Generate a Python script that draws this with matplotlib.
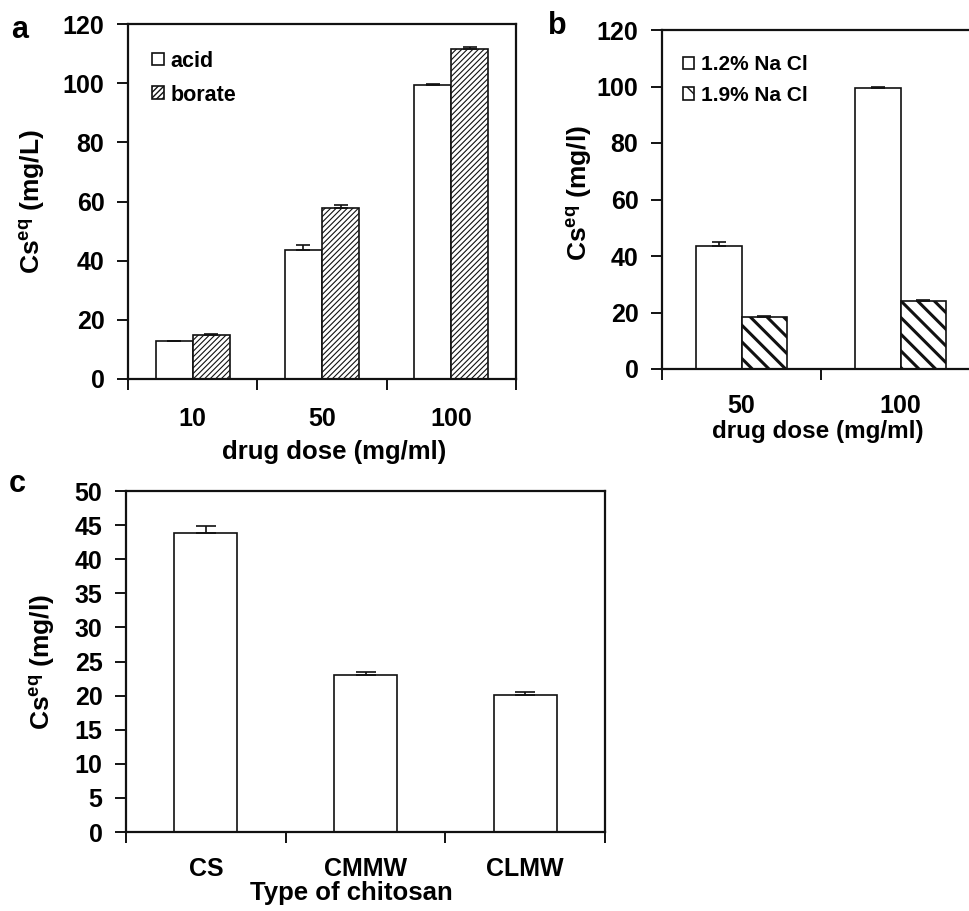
import matplotlib
matplotlib.use("Agg")
import matplotlib.pyplot as plt
import numpy as np

# panel a: dissolution medium
doses_a = ["10", "50", "100"]
acid = [12.8, 43.5, 99.3]
acid_err = [0.2, 1.7, 0.3]
borate = [14.9, 57.8, 111.4]
borate_err = [0.2, 1.0, 0.8]

# panel b: NaCl concentration
doses_b = ["50", "100"]
nacl_12 = [43.6, 99.6]
nacl_12_err = [1.4, 0.3]
nacl_19 = [18.4, 24.1]
nacl_19_err = [0.2, 0.3]

# panel c: chitosan type
chitosan = ["CS", "CMMW", "CLMW"]
cs_eq = [43.8, 23.0, 20.1]
cs_eq_err = [1.0, 0.4, 0.4]

plt.rcParams["font.family"] = ["Liberation Sans", "DejaVu Sans"]
plt.rcParams["font.weight"] = "bold"
plt.rcParams["mathtext.fontset"] = "custom"
plt.rcParams["mathtext.rm"] = "Liberation Sans:bold"
plt.rcParams["mathtext.bf"] = "Liberation Sans:bold"
plt.rcParams["mathtext.it"] = "Liberation Sans:bold"

W, H = 969, 911
fig = plt.figure(figsize=(W / 100, H / 100), dpi=100)


def add_axes_px(left, top, right, bottom):
    return fig.add_axes([left / W, 1 - bottom / H, (right - left) / W, (bottom - top) / H])


def style_axes(ax, ncat, ymax, ystep, ticklabels, xlabel, ylabel,
               ylab_pos, xlab_pos, xtick_pad, xlab_size=18.5):
    ax.set_xlim(-0.5, ncat - 0.5)
    ax.set_ylim(0, ymax)
    ax.set_yticks(np.arange(0, ymax + 0.1, ystep))
    ax.set_xticks(np.arange(-0.5, ncat, 1.0))
    ax.set_xticklabels([])
    ax.set_xticks(np.arange(ncat), minor=True)
    ax.set_xticklabels(ticklabels, minor=True)
    ax.tick_params(axis="x", which="minor", length=0, pad=xtick_pad, labelsize=18)
    ax.tick_params(axis="x", which="major", length=8, width=1.3, direction="out")
    ax.tick_params(axis="y", length=8, width=1.3, direction="out", labelsize=18, pad=9)
    for s in ax.spines.values():
        s.set_linewidth(1.6)
        s.set_color("#111111")
    ax.set_xlabel(xlabel, fontsize=xlab_size, fontweight="bold")
    ax.set_ylabel(ylabel, fontsize=19, fontweight="bold")
    ax.xaxis.label.set_va("center")
    ax.yaxis.label.set_va("center")
    ax.xaxis.set_label_coords(*xlab_pos)
    ax.yaxis.set_label_coords(*ylab_pos)


bar_kw = dict(edgecolor="#111111", linewidth=1.2)
err_kw = dict(ecolor="#111111", elinewidth=1.2, capthick=1.2)

# ---- panel a
ax_a = add_axes_px(128, 24, 516, 379)
x_a = np.arange(len(doses_a))
wa = 0.287
ax_a.bar(x_a - wa / 2, acid, wa, color="white", label="acid",
         yerr=[np.zeros(3), acid_err], capsize=5, error_kw=err_kw, **bar_kw)
with plt.rc_context({"hatch.linewidth": 0.8}):
    b_a = ax_a.bar(x_a + wa / 2, borate, wa, color="white", hatch="//////", label="borate",
                   yerr=[np.zeros(3), borate_err], capsize=5, error_kw=err_kw, **bar_kw)
for p in b_a.patches:
    if hasattr(p, "set_hatch_linewidth"):
        p.set_hatch_linewidth(0.8)
style_axes(ax_a, 3, 120, 20, doses_a, "drug dose (mg/ml)", r"Cs$^{\mathbf{eq}}$ (mg/L)",
           (-0.245, 0.50), (0.53, -0.205), 20)
ax_a.legend(loc="upper left", bbox_to_anchor=(0.062, 0.925), frameon=False,
            prop={"size": 15.5, "weight": "bold"}, handlelength=0.55, handleheight=0.55,
            handletextpad=0.3, labelspacing=0.6, borderpad=0, borderaxespad=0)
fig.text(20 / W, 1 - 30 / H, "a", fontsize=22, fontweight="bold", ha="center", va="center")

# ---- panel b
ax_b = add_axes_px(662, 30, 980, 369)
x_b = np.arange(len(doses_b))
wb = 0.286
ax_b.bar(x_b - wb / 2, nacl_12, wb, color="white", label="1.2% Na Cl",
         yerr=[np.zeros(2), nacl_12_err], capsize=5, error_kw=err_kw, **bar_kw)
with plt.rc_context({"hatch.linewidth": 2.2}):
    b_b = ax_b.bar(x_b + wb / 2, nacl_19, wb, color="white", hatch="\\\\", label="1.9% Na Cl",
                   yerr=[np.zeros(2), nacl_19_err], capsize=5, error_kw=err_kw, **bar_kw)
for p in b_b.patches:
    if hasattr(p, "set_hatch_linewidth"):
        p.set_hatch_linewidth(2.2)
style_axes(ax_b, 2, 120, 20, doses_b, "drug dose (mg/ml)", r"Cs$^{\mathbf{eq}}$ (mg/l)",
           (-0.258, 0.52), (0.49, -0.183), 18, xlab_size=17.5)
ax_b.legend(loc="upper left", bbox_to_anchor=(0.066, 0.925), frameon=False,
            prop={"size": 15, "weight": "bold"}, handlelength=0.55, handleheight=0.55,
            handletextpad=0.3, labelspacing=0.55, borderpad=0, borderaxespad=0)
fig.text(557 / W, 1 - 26 / H, "b", fontsize=22, fontweight="bold", ha="center", va="center")

# ---- panel c
ax_c = add_axes_px(126, 491, 605, 832)
x_c = np.arange(len(chitosan))
ax_c.bar(x_c, cs_eq, 0.394, color="white",
         yerr=[np.zeros(3), cs_eq_err], capsize=7.5, error_kw=err_kw, **bar_kw)
style_axes(ax_c, 3, 50, 5, chitosan, "Type of chitosan", r"Cs$^{\mathbf{eq}}$ (mg/l)",
           (-0.175, 0.50), (0.47, -0.178), 18)
fig.text(17 / W, 1 - 484 / H, "c", fontsize=22, fontweight="bold", ha="center", va="center")

fig.savefig("out.png", dpi=100)
